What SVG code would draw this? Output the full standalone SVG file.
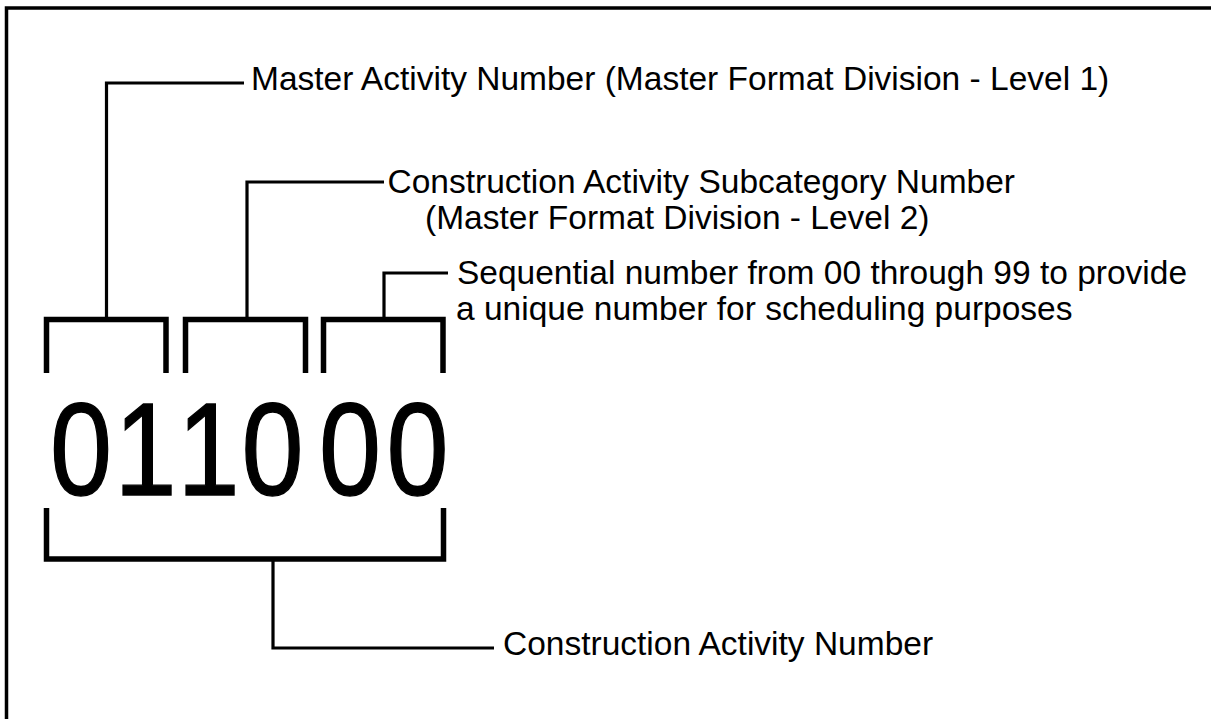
<svg xmlns="http://www.w3.org/2000/svg" width="1211" height="719" viewBox="0 0 1211 719">
<style>
.lbl{font-family:"Liberation Sans",Arial,sans-serif;font-size:33.5px;fill:#000}
.dig{font-family:"Liberation Sans",Arial,sans-serif;font-size:132px;fill:#000;stroke:#000;stroke-width:1.4}
.br{fill:none;stroke:#000;stroke-width:5.5;stroke-linejoin:miter;stroke-linecap:butt}
.cn{fill:none;stroke:#000;stroke-width:3.2;stroke-linejoin:miter}
</style>
<rect x="0" y="0" width="1211" height="719" fill="#fff"/>
<path d="M6.5 719 V8 H1211" fill="none" stroke="#000" stroke-width="3.5"/>

<g id="bracket-master">
<path class="br" d="M46.5 373 V319.5 H166 V373"/>
</g>
<g id="bracket-subcategory">
<path class="br" d="M185.5 373 V319.5 H305.5 V373"/>
</g>
<g id="bracket-sequential">
<path class="br" d="M323.5 373 V319.5 H443 V373"/>
</g>
<g id="bracket-construction">
<path class="br" d="M46.5 508 V559 H443.5 V508"/>
</g>

<g id="number">
<text class="dig" transform="translate(50 495) scale(0.845 1)">0<tspan dx="3">1</tspan></text>
<text class="dig" transform="translate(177.6 495) scale(0.845 1)">1<tspan dx="2.2">0</tspan></text>
<text class="dig" transform="translate(319 495) scale(0.845 1)">0<tspan dx="6.5">0</tspan></text>
</g>

<g id="connectors">
<path class="cn" d="M106.5 317 V83 H244"/>
<path class="cn" d="M247 317 V182 H384"/>
<path class="cn" d="M384 317 V273 H448"/>
<path class="cn" d="M273 561 V648 H494"/>
</g>

<g id="label-master">
<text class="lbl" x="251" y="90">Master Activity Number (Master Format Division - Level 1)</text>
</g>
<g id="label-subcategory">
<text class="lbl" x="387.5" y="193">Construction Activity Subcategory Number</text>
<text class="lbl" x="425" y="229">(Master Format Division - Level 2)</text>
</g>
<g id="label-sequential">
<text class="lbl" x="457" y="284">Sequential number from 00 through 99 to provide</text>
<text class="lbl" x="456" y="320">a unique number for scheduling purposes</text>
</g>
<g id="label-construction">
<text class="lbl" x="503" y="655">Construction Activity Number</text>
</g>
</svg>
